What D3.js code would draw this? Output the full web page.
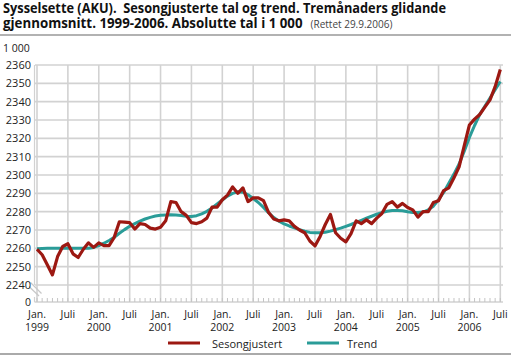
<!DOCTYPE html>
<html><head><meta charset="utf-8">
<script src="https://cdn.jsdelivr.net/npm/d3@7"></script>
<style>
body{margin:0;background:#fff;}
svg{display:block;font-family:"Open Sans",sans-serif;}
</style></head>
<body><svg id="c" width="511" height="358"></svg>
<script>
// Month index 0 = Jan 1999 ... 90 = Jul 2006
const sesongjustert = [
2259.5,2256.5,2251,2245.5,2255.5,2261,2262.5,2257,2255,2259.5,2263,2260.5,
2263,2261.5,2261.5,2266,2274.5,2274.3,2274,2270.5,2273.5,2273,2271,2270.5,
2271.5,2275,2285.5,2285,2280,2278,2274,2273.5,2274.5,2276.5,2282.5,2282.5,
2286.5,2289,2293.5,2290,2293,2285.5,2287.5,2287.5,2286,2279.5,2276,2275,
2275.5,2275,2272,2270,2268.5,2264,2261.3,2266.5,2273,2278.5,2268.5,2265.5,
2263.5,2268,2275,2273.5,2275.5,2273.5,2276.5,2279,2284,2285.5,2282.5,2284.5,
2282.3,2281,2277,2280,2280,2285,2286,2291.5,2293,2298.5,2304.5,2316,
2327.3,2330.5,2333,2337,2341,2348.2,2357.5];
const trend = [
2259.8,2259.9,2260,2260,2260,2260,2260,2260,2260,2260,2260,2260.5,
2261.5,2262.8,2264.3,2266,2268.2,2270.2,2272,2273.5,2274.8,2276,2276.9,2277.6,
2278,2278.2,2278.3,2278.2,2277.9,2277.5,2277.4,2277.8,2278.8,2280.2,2282,2284.2,
2286.4,2288.5,2290,2290.8,2290.6,2289.2,2287.2,2285,2282.3,2279.3,2276.8,2274.8,
2273.3,2272.2,2271.2,2270.2,2269.3,2268.7,2268.5,2268.5,2268.8,2269.4,2270.2,2271,
2272,2273,2274.2,2275.3,2276.4,2277.5,2278.6,2279.5,2280.2,2280.6,2280.7,2280.5,
2280,2279.6,2279.5,2279.8,2281,2283,2286.5,2290.5,2295.5,2300.5,2306,2313,
2320.5,2327,2333,2337.5,2342,2346.5,2351];
const yTicks = [2240,2250,2260,2270,2280,2290,2300,2310,2320,2330,2340,2350,2360];
const xTickMonths = [0,6,12,18,24,30,36,42,48,54,60,66,72,78,84,90];
const xTickLabels = ["Jan.","Juli","Jan.","Juli","Jan.","Juli","Jan.","Juli","Jan.","Juli","Jan.","Juli","Jan.","Juli","Jan.","Juli"];
const xTickYears = ["1999","","2000","","2001","","2002","","2003","","2004","","2005","","2006",""];
const seriesNames = ["Sesongjustert","Trend"];
const colors = ["#9c1812","#2a9c98"];

const svg = d3.select("#c");
const x = d3.scaleLinear().domain([0,90]).range([37,500.3]);
const y = d3.scaleLinear().domain([2240,2360]).range([285,65]);
const base = 302, right = 503;
const grid = "#d2d2d2";

// title
svg.append("text").attr("x",3).attr("y",12.5).attr("font-size",13.3).attr("font-weight","bold").attr("fill","#111")
  .attr("textLength",443).attr("lengthAdjust","spacingAndGlyphs")
  .text("Sysselsette (AKU).\u00a0 Sesongjusterte tal og trend. Tremånaders glidande");
const t2 = svg.append("text").attr("x",3).attr("y",28).attr("font-size",13.3).attr("font-weight","bold").attr("fill","#111");
t2.append("tspan").text("gjennomsnitt. 1999-2006. Absolutte tal i 1 000");
t2.append("tspan").attr("dx",8).attr("font-size",10).attr("font-weight","normal").attr("fill","#444").text("(Rettet 29.9.2006)");
svg.append("line").attr("x1",0).attr("x2",511).attr("y1",35).attr("y2",35).attr("stroke","#999").attr("stroke-width",1.5);
svg.append("text").attr("x",3).attr("y",51.5).attr("font-size",10.5).attr("fill","#222").text("1 000");

// grid
const g = svg.append("g");
g.selectAll(".hg").data(yTicks).join("line").attr("x1",35).attr("x2",right)
  .attr("y1",d=>y(d)).attr("y2",d=>y(d)).attr("stroke",grid).attr("stroke-width",1.6);
g.selectAll(".vg").data(xTickMonths).join("line").attr("x1",d=>x(d)).attr("x2",d=>x(d))
  .attr("y1",y(2360)).attr("y2",base).attr("stroke",grid).attr("stroke-width",1.6);
g.append("line").attr("x1",34.5).attr("x2",34.5).attr("y1",y(2360)).attr("y2",y(2240)).attr("stroke",grid).attr("stroke-width",1.2);
g.append("line").attr("x1",34.5).attr("x2",right).attr("y1",base).attr("y2",base).attr("stroke",grid).attr("stroke-width",1.6);
g.selectAll(".mt").data(d3.range(0,91)).join("line").attr("x1",d=>x(d)).attr("x2",d=>x(d))
  .attr("y1",base-4).attr("y2",base).attr("stroke","#c4c4c4").attr("stroke-width",1);
g.append("line").attr("x1",34.5).attr("x2",34.5).attr("y1",base-5).attr("y2",base).attr("stroke",grid).attr("stroke-width",1.2);
[[30.5,282.5,41.5,293.5],[29,286.5,39,296]].forEach(p=>{
  g.append("line").attr("x1",p[0]).attr("y1",p[1]).attr("x2",p[2]).attr("y2",p[3]).attr("stroke","#c8c8c8").attr("stroke-width",1.3);
});

// y labels
svg.selectAll(".yl").data(yTicks).join("text").attr("x",31).attr("y",d=>y(d)+4)
  .attr("text-anchor","end").attr("font-size",11).attr("fill","#222").text(d=>d);
svg.append("text").attr("x",31).attr("y",base+3.5).attr("text-anchor","end").attr("font-size",10.5).attr("fill","#222").text("0");

// x labels
svg.selectAll(".xl").data(xTickMonths).join("text").attr("x",d=>x(d)).attr("y",317.5)
  .attr("text-anchor","middle").attr("font-size",10.5).attr("fill","#222").text((d,i)=>xTickLabels[i]);
svg.selectAll(".xy").data(xTickMonths).join("text").attr("x",d=>x(d)).attr("y",330.5)
  .attr("text-anchor","middle").attr("font-size",10.5).attr("fill","#222").text((d,i)=>xTickYears[i]);

// lines
const line = d3.line().x((d,i)=>x(i)).y(d=>y(d));
svg.append("path").datum(trend).attr("d",line).attr("fill","none").attr("stroke",colors[1]).attr("stroke-width",3).attr("stroke-linejoin","round");
svg.append("path").datum(sesongjustert).attr("d",line).attr("fill","none").attr("stroke",colors[0]).attr("stroke-width",3.2).attr("stroke-linejoin","round");

// legend
const leg = [{x:168,tx:212},{x:307,tx:347}];
leg.forEach((l,i)=>{
  svg.append("line").attr("x1",l.x).attr("x2",l.x+32).attr("y1",343).attr("y2",343).attr("stroke",colors[i]).attr("stroke-width",3);
  svg.append("text").attr("x",l.tx).attr("y",347.5).attr("font-size",11).attr("fill","#222").text(seriesNames[i]);
});
svg.append("line").attr("x1",0).attr("x2",511).attr("y1",354).attr("y2",354).attr("stroke","#aaa").attr("stroke-width",2);
</script></body></html>
